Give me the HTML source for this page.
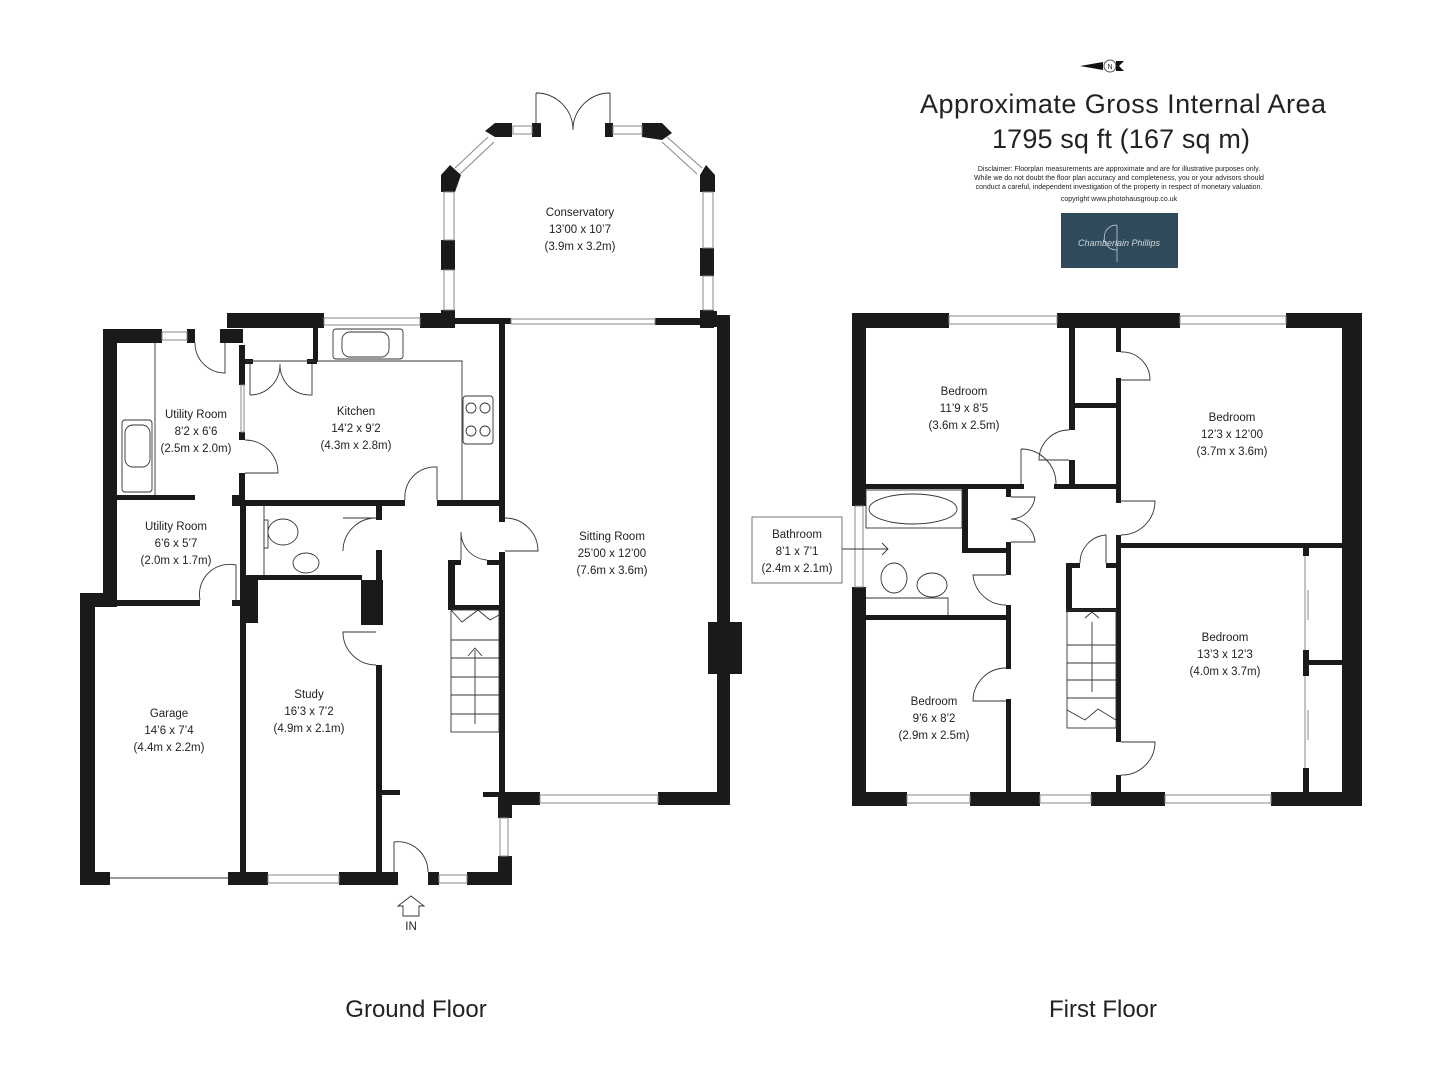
<!DOCTYPE html>
<html><head><meta charset="utf-8"><style>
body{margin:0;background:#fff;}
svg{display:block;}
text{font-family:"Liberation Sans",sans-serif;fill:#222;}
.l{font-size:11.5px;text-anchor:middle;}
</style></head><body>
<svg width="1442" height="1080" viewBox="0 0 1442 1080" xmlns="http://www.w3.org/2000/svg">
<g fill="#1a1a1a">
<!-- GROUND FLOOR outer -->
<rect x="103" y="329" width="59" height="14"/>
<rect x="103" y="329" width="14" height="278"/>
<rect x="80" y="593" width="37" height="14"/>
<rect x="80" y="593" width="15" height="292"/>
<rect x="80" y="872" width="30" height="13"/>
<rect x="187" y="329" width="8" height="14"/>
<rect x="220" y="329" width="23" height="14"/>
<rect x="227" y="313" width="97" height="15"/>
<rect x="420" y="313" width="35" height="15"/>
<rect x="455" y="318" width="56" height="6"/>
<rect x="228" y="872" width="40" height="13"/>
<rect x="339" y="872" width="59" height="13"/>
<rect x="428" y="872" width="11" height="13"/>
<rect x="467" y="872" width="45" height="13"/>
<rect x="498" y="856" width="14" height="29"/>
<!-- sitting room -->
<rect x="499" y="322" width="6" height="200"/>
<rect x="499" y="552" width="6" height="253"/>
<rect x="655" y="318" width="45" height="7"/>
<rect x="700" y="311" width="17" height="16"/>
<rect x="717" y="315" width="13" height="490"/>
<rect x="708" y="622" width="34" height="52"/>
<rect x="498" y="792" width="42" height="13"/>
<rect x="658" y="792" width="72" height="13"/>
<rect x="498" y="792" width="14" height="26"/>
<rect x="483" y="792" width="16" height="5"/>
<!-- kitchen -->
<rect x="232" y="500" width="173" height="6"/>
<rect x="437" y="500" width="62" height="6"/>
<rect x="239" y="345" width="6" height="40"/>
<rect x="239" y="432" width="6" height="8"/>
<rect x="239" y="473" width="6" height="32"/>
<rect x="243" y="359" width="10" height="5"/>
<rect x="307" y="359" width="10" height="5"/>
<rect x="313" y="328" width="5" height="34"/>
<!-- utility -->
<rect x="117" y="495" width="78" height="5"/>
<rect x="117" y="600" width="83" height="6"/>
<rect x="232" y="600" width="8" height="6"/>
<rect x="232" y="495" width="8" height="5"/>
<!-- WC / study -->
<rect x="240" y="505" width="6" height="367"/>
<rect x="240" y="575" width="122" height="5"/>
<rect x="376" y="505" width="6" height="15"/>
<rect x="376" y="550" width="6" height="30"/>
<rect x="240" y="580" width="18" height="43"/>
<rect x="361" y="580" width="22" height="45"/>
<rect x="376" y="665" width="6" height="207"/>
<rect x="382" y="790" width="18" height="5"/>
<!-- cupboard under stair -->
<rect x="448" y="560" width="7" height="50"/>
<rect x="448" y="560" width="13" height="5"/>
<rect x="487" y="560" width="12" height="5"/>
<rect x="448" y="605" width="51" height="5"/>
<!-- conservatory -->
<rect x="532" y="123" width="9" height="14"/>
<rect x="605" y="123" width="8" height="14"/>
<polygon points="495,123 512,123 512,137 495,137 485,131"/>
<polygon points="642,123 662,123 672,133 662,140 642,137"/>
<polygon points="450,165 461,175 455,192 441,192 441,175"/>
<polygon points="706,165 715,175 715,192 700,192 700,175"/>
<rect x="441" y="240" width="14" height="30"/>
<rect x="700" y="248" width="14" height="28"/>
<rect x="441" y="310" width="14" height="18"/>
<rect x="700" y="310" width="14" height="18"/>

<!-- FIRST FLOOR -->
<rect x="852" y="313" width="97" height="15"/>
<rect x="1057" y="313" width="123" height="15"/>
<rect x="1286" y="313" width="76" height="15"/>
<rect x="1342" y="313" width="20" height="493"/>
<rect x="852" y="313" width="14" height="193"/>
<rect x="852" y="587" width="14" height="219"/>
<rect x="852" y="792" width="55" height="14"/>
<rect x="970" y="792" width="70" height="14"/>
<rect x="1091" y="792" width="74" height="14"/>
<rect x="1271" y="792" width="91" height="14"/>
<rect x="866" y="484" width="158" height="5"/>
<rect x="1054" y="484" width="63" height="5"/>
<rect x="1069" y="328" width="6" height="102"/>
<rect x="1069" y="460" width="6" height="29"/>
<rect x="1070" y="403" width="47" height="5"/>
<rect x="1116" y="328" width="5" height="24"/>
<rect x="1116" y="378" width="5" height="125"/>
<rect x="1116" y="535" width="5" height="207"/>
<rect x="1116" y="775" width="5" height="18"/>
<rect x="1116" y="543" width="226" height="5"/>
<rect x="962" y="489" width="6" height="64"/>
<rect x="962" y="548" width="49" height="5"/>
<rect x="1006" y="489" width="5" height="8"/>
<rect x="1006" y="542" width="5" height="33"/>
<rect x="866" y="615" width="145" height="5"/>
<rect x="1006" y="605" width="5" height="64"/>
<rect x="1006" y="699" width="5" height="94"/>
<rect x="1066" y="563" width="6" height="49"/>
<rect x="1066" y="563" width="14" height="5"/>
<rect x="1106" y="563" width="11" height="5"/>
<rect x="1066" y="608" width="51" height="4"/>
<rect x="1303" y="548" width="6" height="8"/>
<rect x="1303" y="650" width="6" height="26"/>
<rect x="1303" y="768" width="6" height="25"/>
<rect x="1309" y="660" width="33" height="5"/>
</g>

<g fill="none" stroke="#888" stroke-width="1">
<!-- windows ground -->
<rect x="162" y="332" width="25" height="8"/>
<rect x="324" y="318" width="96" height="7"/>
<rect x="511" y="319" width="144" height="5"/>
<rect x="268" y="875" width="71" height="8"/>
<rect x="439" y="875" width="28" height="8"/>
<rect x="540" y="795" width="118" height="8"/>
<rect x="500" y="818" width="8" height="38"/>
<rect x="241" y="385" width="3" height="47"/>
<line x1="110" y1="878" x2="228" y2="878" stroke="#333"/>
<!-- conservatory windows -->
<rect x="513" y="126" width="19" height="8"/>
<rect x="613" y="126" width="29" height="8"/>
<rect x="444" y="192" width="10" height="48"/>
<rect x="444" y="270" width="10" height="40"/>
<rect x="703" y="192" width="10" height="56"/>
<rect x="703" y="276" width="10" height="34"/>
<line x1="488" y1="137" x2="455" y2="168"/><line x1="494" y1="142" x2="460" y2="174"/>
<line x1="667" y1="137" x2="702" y2="168"/><line x1="662" y1="142" x2="697" y2="174"/>
<!-- first floor windows -->
<rect x="949" y="316" width="108" height="8"/>
<rect x="1180" y="316" width="106" height="8"/>
<rect x="907" y="795" width="63" height="8"/>
<rect x="1040" y="795" width="51" height="8"/>
<rect x="1165" y="795" width="106" height="8"/>
<rect x="855" y="506" width="8" height="81"/>
<line x1="1305" y1="556" x2="1305" y2="650"/><line x1="1308" y1="590" x2="1308" y2="620"/>
<line x1="1305" y1="676" x2="1305" y2="768"/><line x1="1308" y1="710" x2="1308" y2="740"/>
</g>

<g fill="none" stroke="#333" stroke-width="0.9">
<!-- doors ground -->
<path d="M195 343 A30 30 0 0 0 225 373 L225 343"/>
<path d="M245 440 A33 33 0 0 1 278 473 L245 473"/>
<path d="M250 364 L250 395 M250 395 A30 30 0 0 0 280 364 M312 364 L312 395 A30 30 0 0 1 280 364"/>
<path d="M437 500 L437 467 A30 30 0 0 0 405 500"/>
<path d="M505 518 A33 33 0 0 1 538 551 L505 551"/>
<path d="M461 560 L461 532 A28 28 0 0 0 487 560" />
<path d="M376 518 A33 33 0 0 0 343 551 M343 518 L376 518"/>
<path d="M236 600 L236 565 A30 30 0 0 0 200 600"/>
<path d="M376 632 L343 632 A33 33 0 0 0 376 665"/>
<path d="M394 872 L394 842 A30 30 0 0 1 428 872"/>
<path d="M536 93 L536 123 M536 93 A37 37 0 0 1 573 130 M610 93 L610 123 M610 93 A37 37 0 0 0 573 130"/>
<!-- kitchen fittings -->
<rect x="333" y="329" width="70" height="30" rx="3"/>
<rect x="342" y="332" width="47" height="25" rx="8"/>
<polyline points="246,361 462,361 462,500"/>
<rect x="463" y="396" width="30" height="48" rx="3"/>
<circle cx="471" cy="408" r="5"/><circle cx="485" cy="408" r="5"/><circle cx="471" cy="431" r="5"/><circle cx="485" cy="431" r="5"/>
<rect x="122" y="420" width="30" height="72" rx="3"/>
<rect x="125" y="425" width="25" height="42" rx="8"/>
<line x1="155" y1="343" x2="155" y2="495"/>
<ellipse cx="283" cy="532" rx="15" ry="13"/><rect x="264" y="520" width="4" height="28"/>
<ellipse cx="306" cy="563" rx="13" ry="10"/>
<line x1="264" y1="505" x2="264" y2="575"/>
<!-- stairs ground -->
<rect x="451" y="610" width="48" height="122"/>
<path d="M451 610 L462 622 L478 610 L490 620 L499 615"/>
<path d="M451 640 H499 M451 658 H499 M451 677 H499 M451 695 H499 M451 714 H499 M475 650 V724 M468 656 L475 648 L482 656"/>
<!-- first floor doors -->
<path d="M1121 352 A28 28 0 0 1 1150 380 L1121 380"/>
<path d="M1069 430 A30 30 0 0 0 1039 460 L1069 460"/>
<path d="M1021 449 L1021 484 M1021 449 A35 35 0 0 1 1056 484"/>
<path d="M1011 497 L1035 497 A25 25 0 0 1 1011 519 A25 25 0 0 1 1035 542 L1011 542"/>
<path d="M1121 501 L1155 501 A34 34 0 0 1 1121 535"/>
<path d="M1106 563 L1106 535 A28 28 0 0 0 1080 563"/>
<path d="M1006 575 L973 575 A33 33 0 0 0 1006 605"/>
<path d="M1006 668 A33 33 0 0 0 973 701 L1006 701"/>
<path d="M1121 742 L1155 742 A33 33 0 0 1 1121 775"/>
<!-- bath -->
<rect x="866" y="490" width="96" height="38"/>
<ellipse cx="913" cy="509" rx="44" ry="15"/>
<ellipse cx="894" cy="578" rx="13" ry="15"/>
<ellipse cx="932" cy="585" rx="15" ry="12"/>
<polyline points="866,598 948,598 948,615"/>
<!-- stairs first -->
<rect x="1067" y="610" width="49" height="118"/>
<path d="M1067 645 H1116 M1067 663 H1116 M1067 680 H1116 M1067 698 H1116 M1067 710 L1085 720 L1098 709 L1116 720 M1092 622 V692 M1085 618 L1092 612 L1099 618"/>
<!-- bathroom label box -->
<rect x="752" y="517" width="90" height="66" fill="#fff" stroke="#666"/>
<path d="M842 549 H888 M882 543 L888 549 L882 555"/>
<!-- IN arrow -->
<path d="M403 916 V906 H398 L411 896 L424 906 H419 V916 Z"/>
</g>

<!-- north arrow -->
<path d="M1080 66 L1103 62 L1103 70 Z" fill="#111"/>
<circle cx="1110" cy="66" r="6" fill="#fff" stroke="#555"/>
<text x="1110" y="69" font-size="7" text-anchor="middle">N</text>
<path d="M1116 61 L1124 61 L1119 66 L1124 71 L1116 71 Z" fill="#111"/>

<!-- labels -->
<text class="l" x="580" y="216">Conservatory</text>
<text class="l" x="580" y="233">13’00 x 10’7</text>
<text class="l" x="580" y="250">(3.9m x 3.2m)</text>
<text class="l" x="196" y="418">Utility Room</text>
<text class="l" x="196" y="435">8’2 x 6’6</text>
<text class="l" x="196" y="452">(2.5m x 2.0m)</text>
<text class="l" x="356" y="415">Kitchen</text>
<text class="l" x="356" y="432">14’2 x 9’2</text>
<text class="l" x="356" y="449">(4.3m x 2.8m)</text>
<text class="l" x="176" y="530">Utility Room</text>
<text class="l" x="176" y="547">6’6 x 5’7</text>
<text class="l" x="176" y="564">(2.0m x 1.7m)</text>
<text class="l" x="612" y="540">Sitting Room</text>
<text class="l" x="612" y="557">25’00 x 12’00</text>
<text class="l" x="612" y="574">(7.6m x 3.6m)</text>
<text class="l" x="309" y="698">Study</text>
<text class="l" x="309" y="715">16’3 x 7’2</text>
<text class="l" x="309" y="732">(4.9m x 2.1m)</text>
<text class="l" x="169" y="717">Garage</text>
<text class="l" x="169" y="734">14’6 x 7’4</text>
<text class="l" x="169" y="751">(4.4m x 2.2m)</text>
<text class="l" x="411" y="930">IN</text>
<text class="l" x="964" y="395">Bedroom</text>
<text class="l" x="964" y="412">11’9 x 8’5</text>
<text class="l" x="964" y="429">(3.6m x 2.5m)</text>
<text class="l" x="1232" y="421">Bedroom</text>
<text class="l" x="1232" y="438">12’3 x 12’00</text>
<text class="l" x="1232" y="455">(3.7m x 3.6m)</text>
<text class="l" x="797" y="538">Bathroom</text>
<text class="l" x="797" y="555">8’1 x 7’1</text>
<text class="l" x="797" y="572">(2.4m x 2.1m)</text>
<text class="l" x="1225" y="641">Bedroom</text>
<text class="l" x="1225" y="658">13’3 x 12’3</text>
<text class="l" x="1225" y="675">(4.0m x 3.7m)</text>
<text class="l" x="934" y="705">Bedroom</text>
<text class="l" x="934" y="722">9’6 x 8’2</text>
<text class="l" x="934" y="739">(2.9m x 2.5m)</text>

<text x="1123" y="113" font-size="27" text-anchor="middle" textLength="406">Approximate Gross Internal Area</text>
<text x="1121" y="148" font-size="27" text-anchor="middle" textLength="258">1795 sq ft (167 sq m)</text>
<g font-size="7" text-anchor="middle">
<text x="1119" y="171">Disclaimer: Floorplan measurements are approximate and are for illustrative purposes only.</text>
<text x="1119" y="180">While we do not doubt the floor plan accuracy and completeness, you or your advisors should</text>
<text x="1119" y="189">conduct a careful, independent investigation of the property in respect of monetary valuation.</text>
<text x="1119" y="201">copyright www.photohausgroup.co.uk</text>
</g>
<rect x="1061" y="213" width="117" height="55" fill="#2f4a5a"/>
<text x="1119" y="246" font-size="9" text-anchor="middle" style="fill:#cfd8dc;font-style:italic">Chamberlain Phillips</text>
<path d="M1117 225 C1100 225 1100 250 1117 250 M1117 225 V262" stroke="#cfd8dc" fill="none" stroke-width="0.7"/>

<text x="416" y="1017" font-size="24" text-anchor="middle">Ground Floor</text>
<text x="1103" y="1017" font-size="24" text-anchor="middle">First Floor</text>
</svg>
</body></html>
